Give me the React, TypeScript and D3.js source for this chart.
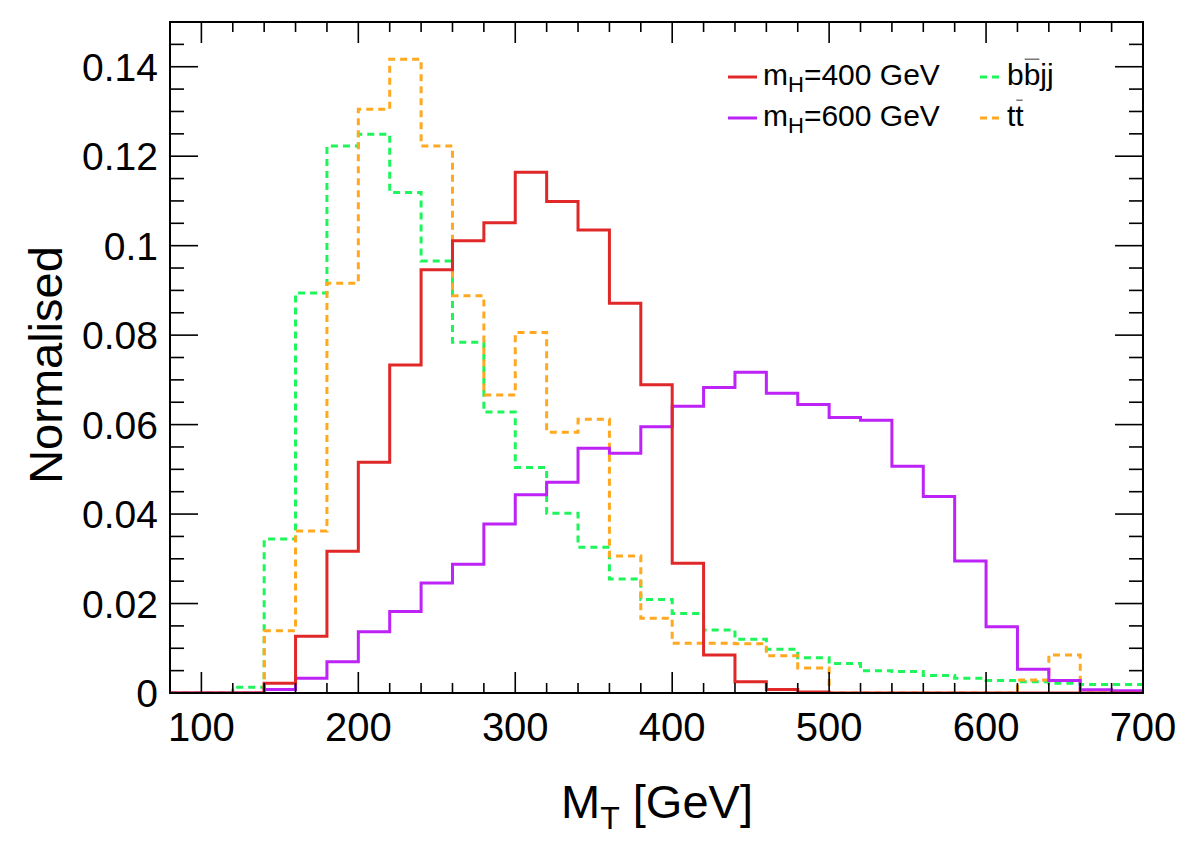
import React, { useEffect, useRef } from 'react'
import * as d3 from 'd3'

// bin lower edges, 20 GeV wide, 80 -> 700
const binEdges = d3.range(80, 700, 20)

// normalised yields per bin
const mH400 = [
  0, 0, 0, 0.0022, 0.0127, 0.0317, 0.0516, 0.0733, 0.0946, 0.1011,
  0.1051, 0.1164, 0.1099, 0.1035, 0.0871, 0.0689, 0.029, 0.0085, 0.0025, 0.0008,
  0.0002, 0, 0, 0, 0, 0, 0, 0, 0, 0, 0,
]
const mH600 = [
  0, 0, 0, 0.0008, 0.0033, 0.007, 0.0137, 0.0182, 0.0246, 0.0288,
  0.0378, 0.0443, 0.0471, 0.0547, 0.0536, 0.0595, 0.0641, 0.0683, 0.0717, 0.067,
  0.0645, 0.0616, 0.061, 0.0507, 0.0439, 0.0295, 0.0148, 0.0053, 0.0028, 0.0007, 0.0005,
]
const bbjj = [
  0, 0, 0.0013, 0.0344, 0.0894, 0.1223, 0.1249, 0.1119, 0.0966, 0.0784,
  0.0628, 0.0504, 0.0402, 0.0326, 0.0255, 0.0209, 0.0178, 0.0141, 0.012, 0.0098,
  0.0079, 0.0066, 0.005, 0.0048, 0.0039, 0.0033, 0.0028, 0.0025, 0.0022, 0.0019, 0.0019,
]
const ttbar = [
  0, 0, 0, 0.0139, 0.0362, 0.0916, 0.1305, 0.1417, 0.1223, 0.0888,
  0.0666, 0.0806, 0.0583, 0.0612, 0.0306, 0.0167, 0.0111, 0.0111, 0.011, 0.0083,
  0.0056, 0, 0, 0, 0, 0, 0, 0.0029, 0.0085, 0, 0,
]

const xTicks = [100, 200, 300, 400, 500, 600, 700]
const yTicks = [0, 0.02, 0.04, 0.06, 0.08, 0.1, 0.12, 0.14]

const series = [
  { name: 'bbjj', values: bbjj, color: '#1ef55a', dash: '7,5' },
  { name: 'tt', values: ttbar, color: '#ffa820', dash: '7,5' },
  { name: 'mH600', values: mH600, color: '#bd22f7', dash: null },
  { name: 'mH400', values: mH400, color: '#e02828', dash: null },
]

const W = 1182
const H = 859
const FONT = '"Liberation Sans", Arial, Helvetica, sans-serif'

export default function App() {
  const svgRef = useRef<SVGSVGElement>(null)

  useEffect(() => {
    if (!svgRef.current) return
    const svg = d3.select(svgRef.current)
    svg.selectAll('*').remove()

    const left = 170, right = 1143, top = 22, bottom = 693

    const x = d3.scaleLinear().domain([80, 700]).range([left, right])
    const y = d3.scaleLinear().domain([0, 0.15]).range([bottom, top])

    svg.append('rect').attr('width', W).attr('height', H).attr('fill', '#fff')

    svg.append('defs').append('clipPath').attr('id', 'plotClip')
      .append('rect')
      .attr('x', left).attr('y', top)
      .attr('width', right - left).attr('height', bottom - top)

    // histograms
    const line = d3.line<[number, number]>()
      .x(d => x(d[0]))
      .y(d => y(d[1]))
      .curve(d3.curveStepAfter)

    const plot = svg.append('g').attr('clip-path', 'url(#plotClip)')
    series.forEach(s => {
      const pts: [number, number][] = binEdges.map((e, i) => [e, s.values[i]])
      pts.push([700, s.values[s.values.length - 1]])
      plot.append('path')
        .attr('d', line(pts))
        .attr('fill', 'none')
        .attr('stroke', s.color)
        .attr('stroke-width', 3)
        .attr('stroke-dasharray', s.dash)
    })

    // frame
    svg.append('rect')
      .attr('x', left).attr('y', top)
      .attr('width', right - left).attr('height', bottom - top)
      .attr('fill', 'none').attr('stroke', '#000').attr('stroke-width', 2)

    const ticks = svg.append('g').attr('stroke', '#000').attr('stroke-width', 1.6)

    // x ticks (bottom + top)
    d3.range(80, 701, 20).forEach(v => {
      const len = v % 100 === 0 ? 21 : 10
      ticks.append('line').attr('x1', x(v)).attr('x2', x(v)).attr('y1', bottom).attr('y2', bottom - len)
      ticks.append('line').attr('x1', x(v)).attr('x2', x(v)).attr('y1', top).attr('y2', top + len)
    })
    // y ticks (left + right)
    d3.range(0, 0.1501, 0.005).forEach(v => {
      const major = Math.abs(v / 0.02 - Math.round(v / 0.02)) < 1e-6
      const len = major ? 28 : 14
      ticks.append('line').attr('y1', y(v)).attr('y2', y(v)).attr('x1', left).attr('x2', left + len)
      ticks.append('line').attr('y1', y(v)).attr('y2', y(v)).attr('x1', right).attr('x2', right - len)
    })

    const txt = svg.append('g').attr('font-family', FONT).attr('fill', '#000')

    xTicks.forEach(v => {
      txt.append('text')
        .attr('x', x(v)).attr('y', 741)
        .attr('text-anchor', 'middle')
        .attr('font-size', 40)
        .text(v)
    })
    yTicks.forEach(v => {
      txt.append('text')
        .attr('x', 158).attr('y', y(v) + 14)
        .attr('text-anchor', 'end')
        .attr('font-size', 39)
        .text(String(+v.toFixed(2)))
    })

    // axis titles
    const xt = txt.append('text')
      .attr('x', 657).attr('y', 818)
      .attr('text-anchor', 'middle')
      .attr('font-size', 47)
    xt.append('tspan').text('M')
    xt.append('tspan').attr('font-size', 32).attr('dy', 11).text('T')
    xt.append('tspan').attr('dy', -11).text(' [GeV]')

    txt.append('text')
      .attr('transform', 'translate(62,365) rotate(-90)')
      .attr('text-anchor', 'middle')
      .attr('font-size', 47)
      .text('Normalised')

    // legend
    const leg = svg.append('g').attr('font-family', FONT)
    const rows = [
      { color: '#e02828', dash: null, x0: 728, y0: 77, kind: 'mH', mass: '400' },
      { color: '#bd22f7', dash: null, x0: 728, y0: 118, kind: 'mH', mass: '600' },
      { color: '#1ef55a', dash: '7,5', x0: 980, y0: 77, kind: 'bbjj', mass: '' },
      { color: '#ffa820', dash: '7,5', x0: 980, y0: 118, kind: 'tt', mass: '' },
    ]
    const legSize = 30
    rows.forEach(r => {
      leg.append('line')
        .attr('x1', r.x0).attr('x2', r.x0 + (r.dash ? 19 : 29))
        .attr('y1', r.y0).attr('y2', r.y0)
        .attr('stroke', r.color).attr('stroke-width', 3)
        .attr('stroke-dasharray', r.dash)
      const tx = r.x0 + (r.dash ? 27 : 35)
      const ty = r.y0 + 8
      const t = leg.append('text')
        .attr('x', tx).attr('y', ty)
        .attr('font-size', legSize)
      if (r.kind === 'mH') {
        t.append('tspan').text('m')
        t.append('tspan').attr('font-size', 22).attr('dy', 7).text('H')
        t.append('tspan').attr('dy', -7).text(`=${r.mass} GeV`)
      } else {
        t.text(r.kind === 'bbjj' ? 'bbjj' : 'tt')
        // bar over the second letter (anti-particle)
        const node = t.node() as SVGTextElement
        const x0 = tx + node.getSubStringLength(0, 1)
        const w = node.getSubStringLength(1, 1)
        leg.append('line')
          .attr('x1', x0 + 1).attr('x2', x0 + w - 1)
          .attr('y1', ty - legSize * 0.86).attr('y2', ty - legSize * 0.86)
          .attr('stroke', '#555').attr('stroke-width', 1.2)
      }
    })
  }, [])

  return (
    <svg
      ref={svgRef}
      width={W}
      height={H}
      style={{ position: 'absolute', left: 0, top: 0, display: 'block' }}
    />
  )
}
